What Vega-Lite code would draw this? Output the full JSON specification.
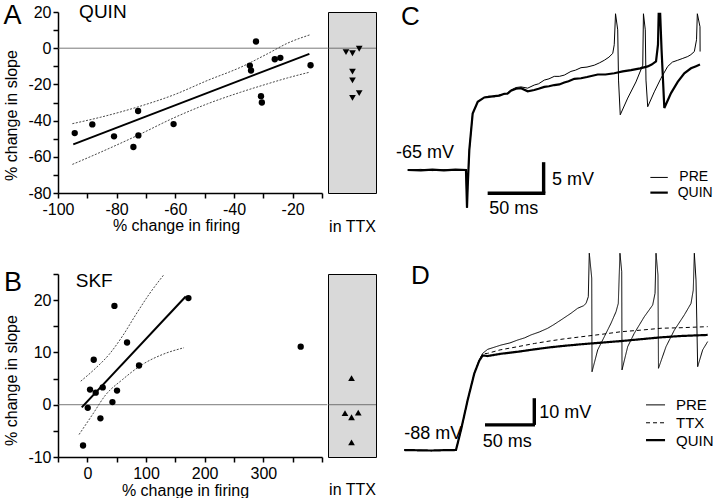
{
  "$schema": "https://vega.github.io/schema/vega-lite/v6.json",
  "padding": {"left": 3, "top": 1, "right": 0, "bottom": 0},
  "background": "white",
  "config": {
    "font": "Liberation Sans",
    "view": {"stroke": null},
    "axis": {"domainColor": "#000", "domainWidth": 1.5, "tickColor": "#000", "tickWidth": 1.5, "tickSize": 5, "labelFont": "Liberation Sans", "labelFontSize": 16, "labelColor": "#000", "titleFont": "Liberation Sans", "titleFontSize": 16, "titleFontWeight": "normal", "titleColor": "#000", "grid": false, "labelOverlap": false, "labelFlush": false},
    "text": {"font": "Liberation Sans", "color": "#000"}
  },
  "columns": 3,
  "align": "each",
  "bounds": "flush",
  "spacing": {"row": 81, "column": 6},
  "datasets": {
    "aRef": [{"firing": -100, "firing2": -8, "slope": 0}],
    "aPts": [
      {"firing": -94.3, "slope": -46.9}, {"firing": -88.3, "slope": -42.1}, {"firing": -80.9, "slope": -48.7},
      {"firing": -74.3, "slope": -54.6}, {"firing": -72.7, "slope": -34.7}, {"firing": -72.6, "slope": -48.2},
      {"firing": -60.6, "slope": -41.9}, {"firing": -34.6, "slope": -9.6}, {"firing": -34.2, "slope": -12.3},
      {"firing": -32.5, "slope": 3.7}, {"firing": -30.8, "slope": -26.5}, {"firing": -30.5, "slope": -30.0},
      {"firing": -26.1, "slope": -6.1}, {"firing": -24.2, "slope": -5.3}, {"firing": -13.9, "slope": -9.4}
    ],
    "aReg": [{"firing": -94.8, "slope": -53.1}, {"firing": -14.3, "slope": -3.1}],
    "aCI": [
      {"band": "upper", "firing": -95.1, "slope": -41.7}, {"band": "upper", "firing": -85.4, "slope": -38.1},
      {"band": "upper", "firing": -72.9, "slope": -32.5}, {"band": "upper", "firing": -60.4, "slope": -25.7},
      {"band": "upper", "firing": -49.0, "slope": -17.8}, {"band": "upper", "firing": -37.7, "slope": -10.5},
      {"band": "upper", "firing": -28.6, "slope": -3.1}, {"band": "upper", "firing": -21.7, "slope": 2.8},
      {"band": "upper", "firing": -14.1, "slope": 7.4},
      {"band": "lower", "firing": -95.1, "slope": -64.2}, {"band": "lower", "firing": -85.4, "slope": -57.4},
      {"band": "lower", "firing": -72.9, "slope": -48.2}, {"band": "lower", "firing": -60.4, "slope": -38.4},
      {"band": "lower", "firing": -49.0, "slope": -30.7}, {"band": "lower", "firing": -37.7, "slope": -24.3},
      {"band": "lower", "firing": -28.6, "slope": -19.7}, {"band": "lower", "firing": -21.7, "slope": -16.4},
      {"band": "lower", "firing": -14.1, "slope": -13.2}
    ],
    "aNote": [
      {"firing": -118.6, "slope": 18.0, "label": "A", "role": "panel"},
      {"firing": -92.8, "slope": 19.9, "label": "QUIN", "role": "drug"}
    ],
    "aTTX": [
      {"jitter": 0.375, "slope": -2.2}, {"jitter": 0.51, "slope": -2.8}, {"jitter": 0.65, "slope": -0.3},
      {"jitter": 0.51, "slope": -12.9}, {"jitter": 0.51, "slope": -17.8}, {"jitter": 0.51, "slope": -27.4},
      {"jitter": 0.65, "slope": -24.8}
    ],
    "bRef": [{"firing": -50, "firing2": 409, "slope": 0}],
    "bPts": [
      {"firing": -7.3, "slope": -7.8}, {"firing": 0.7, "slope": -0.6}, {"firing": 4.6, "slope": 2.9},
      {"firing": 10.9, "slope": 8.6}, {"firing": 14.3, "slope": 2.3}, {"firing": 22.3, "slope": -2.6},
      {"firing": 26.2, "slope": 3.3}, {"firing": 42.8, "slope": 0.5}, {"firing": 46.2, "slope": 18.9},
      {"firing": 50.6, "slope": 2.7}, {"firing": 67.7, "slope": 11.9}, {"firing": 88.1, "slope": 7.5},
      {"firing": 172.3, "slope": 20.4}, {"firing": 363.7, "slope": 11.1}
    ],
    "bReg": [{"firing": -9.5, "slope": -0.5}, {"firing": 167.7, "slope": 20.7}],
    "bCI": [
      {"band": "upper", "firing": -11.2, "slope": 4.5}, {"band": "upper", "firing": 14.3, "slope": 7.0},
      {"band": "upper", "firing": 37.0, "slope": 9.6}, {"band": "upper", "firing": 59.8, "slope": 13.1},
      {"band": "upper", "firing": 82.5, "slope": 17.2}, {"band": "upper", "firing": 105.2, "slope": 21.1},
      {"band": "upper", "firing": 130.7, "slope": 24.9},
      {"band": "lower", "firing": -14.1, "slope": -5.7}, {"band": "lower", "firing": 8.7, "slope": -1.9},
      {"band": "lower", "firing": 31.4, "slope": 1.9}, {"band": "lower", "firing": 59.8, "slope": 4.8},
      {"band": "lower", "firing": 93.9, "slope": 7.7}, {"band": "lower", "firing": 128.0, "slope": 9.6},
      {"band": "lower", "firing": 164.8, "slope": 10.9}
    ],
    "bNote": [
      {"firing": -142, "slope": 23.3, "label": "B", "role": "panel"},
      {"firing": -19.8, "slope": 23.6, "label": "SKF", "role": "drug"}
    ],
    "bTTX": [
      {"jitter": 0.49, "slope": 5.1}, {"jitter": 0.354, "slope": -1.6}, {"jitter": 0.49, "slope": -2.4},
      {"jitter": 0.63, "slope": -1.5}, {"jitter": 0.49, "slope": -7.2}
    ],
    "cTrace": [
      {"rec": "PRE", "ms": -51.4, "mV": -65.0}, {"rec": "PRE", "ms": -40, "mV": -64.9}, {"rec": "PRE", "ms": -30, "mV": -65.1},
      {"rec": "PRE", "ms": -20, "mV": -64.95}, {"rec": "PRE", "ms": -10, "mV": -65.05}, {"rec": "PRE", "ms": -0.9, "mV": -65.0},
      {"rec": "PRE", "ms": 0, "mV": -71.1}, {"rec": "PRE", "ms": 0.6, "mV": -67.7}, {"rec": "PRE", "ms": 2.0, "mV": -61.8},
      {"rec": "PRE", "ms": 4.9, "mV": -55.9}, {"rec": "PRE", "ms": 9.3, "mV": -54.0}, {"rec": "PRE", "ms": 15.0, "mV": -53.3},
      {"rec": "PRE", "ms": 19, "mV": -53.1}, {"rec": "PRE", "ms": 23.7, "mV": -53.2}, {"rec": "PRE", "ms": 28, "mV": -52.9},
      {"rec": "PRE", "ms": 32.3, "mV": -52.8}, {"rec": "PRE", "ms": 35, "mV": -52.6}, {"rec": "PRE", "ms": 38.1, "mV": -52.1},
      {"rec": "PRE", "ms": 42.5, "mV": -51.7}, {"rec": "PRE", "ms": 46.8, "mV": -51.6}, {"rec": "PRE", "ms": 52.6, "mV": -51.8},
      {"rec": "PRE", "ms": 58.3, "mV": -51.3}, {"rec": "PRE", "ms": 62, "mV": -51.1}, {"rec": "PRE", "ms": 67.0, "mV": -50.5},
      {"rec": "PRE", "ms": 71, "mV": -50.3}, {"rec": "PRE", "ms": 75.6, "mV": -49.9}, {"rec": "PRE", "ms": 80, "mV": -49.9},
      {"rec": "PRE", "ms": 84.3, "mV": -49.7}, {"rec": "PRE", "ms": 90.1, "mV": -49.1}, {"rec": "PRE", "ms": 94, "mV": -48.9},
      {"rec": "PRE", "ms": 98.8, "mV": -48.5}, {"rec": "PRE", "ms": 104, "mV": -48.4}, {"rec": "PRE", "ms": 110.3, "mV": -48.1},
      {"rec": "PRE", "ms": 115, "mV": -47.7}, {"rec": "PRE", "ms": 119.0, "mV": -47.3}, {"rec": "PRE", "ms": 123, "mV": -46.8},
      {"rec": "PRE", "ms": 126.3, "mV": -46.2}, {"rec": "PRE", "ms": 127.6, "mV": -44.8}, {"rec": "PRE", "ms": 128.7, "mV": -39.8},
      {"rec": "PRE", "ms": 130.6, "mV": -42.4}, {"rec": "PRE", "ms": 131.3, "mV": -50.5}, {"rec": "PRE", "ms": 132.8, "mV": -56.1},
      {"rec": "PRE", "ms": 139.3, "mV": -53.4}, {"rec": "PRE", "ms": 146.4, "mV": -50.8}, {"rec": "PRE", "ms": 152.3, "mV": -48.1},
      {"rec": "PRE", "ms": 152.9, "mV": -39.8}, {"rec": "PRE", "ms": 154.5, "mV": -42.4}, {"rec": "PRE", "ms": 155.1, "mV": -50.5},
      {"rec": "PRE", "ms": 156.6, "mV": -54.8}, {"rec": "PRE", "ms": 162.3, "mV": -52.4}, {"rec": "PRE", "ms": 168.1, "mV": -50.2},
      {"rec": "PRE", "ms": 173.9, "mV": -48.3}, {"rec": "PRE", "ms": 178, "mV": -47.6}, {"rec": "PRE", "ms": 182.6, "mV": -47.3},
      {"rec": "PRE", "ms": 187, "mV": -47.0}, {"rec": "PRE", "ms": 191.3, "mV": -46.7}, {"rec": "PRE", "ms": 194, "mV": -46.4},
      {"rec": "PRE", "ms": 197.0, "mV": -45.9}, {"rec": "PRE", "ms": 198.9, "mV": -44.0}, {"rec": "PRE", "ms": 199.6, "mV": -39.8},
      {"rec": "PRE", "ms": 201.9, "mV": -41.9}, {"rec": "PRE", "ms": 202.0, "mV": -45.9},
      {"rec": "QUIN", "ms": -51.4, "mV": -65.0}, {"rec": "QUIN", "ms": -40, "mV": -65.05}, {"rec": "QUIN", "ms": -30, "mV": -64.95},
      {"rec": "QUIN", "ms": -20, "mV": -65.05}, {"rec": "QUIN", "ms": -10, "mV": -64.95}, {"rec": "QUIN", "ms": -0.9, "mV": -65.0},
      {"rec": "QUIN", "ms": 0, "mV": -71.1}, {"rec": "QUIN", "ms": 0.6, "mV": -67.7}, {"rec": "QUIN", "ms": 2.0, "mV": -61.8},
      {"rec": "QUIN", "ms": 4.9, "mV": -55.9}, {"rec": "QUIN", "ms": 9.3, "mV": -54.0}, {"rec": "QUIN", "ms": 15.0, "mV": -53.3},
      {"rec": "QUIN", "ms": 19, "mV": -53.2}, {"rec": "QUIN", "ms": 23.7, "mV": -53.1}, {"rec": "QUIN", "ms": 28, "mV": -53.0},
      {"rec": "QUIN", "ms": 32.3, "mV": -52.7}, {"rec": "QUIN", "ms": 35, "mV": -52.7}, {"rec": "QUIN", "ms": 38.1, "mV": -52.2},
      {"rec": "QUIN", "ms": 42.5, "mV": -51.9}, {"rec": "QUIN", "ms": 46.8, "mV": -51.8}, {"rec": "QUIN", "ms": 52.6, "mV": -52.3},
      {"rec": "QUIN", "ms": 58.3, "mV": -52.1}, {"rec": "QUIN", "ms": 62, "mV": -51.9}, {"rec": "QUIN", "ms": 67.0, "mV": -51.6},
      {"rec": "QUIN", "ms": 71, "mV": -51.5}, {"rec": "QUIN", "ms": 75.6, "mV": -51.3}, {"rec": "QUIN", "ms": 80, "mV": -51.2},
      {"rec": "QUIN", "ms": 84.3, "mV": -50.9}, {"rec": "QUIN", "ms": 88, "mV": -50.7}, {"rec": "QUIN", "ms": 93.0, "mV": -50.3},
      {"rec": "QUIN", "ms": 98.8, "mV": -50.2}, {"rec": "QUIN", "ms": 104, "mV": -50.0}, {"rec": "QUIN", "ms": 113.3, "mV": -49.6},
      {"rec": "QUIN", "ms": 120, "mV": -49.6}, {"rec": "QUIN", "ms": 127.6, "mV": -49.4}, {"rec": "QUIN", "ms": 135, "mV": -49.1},
      {"rec": "QUIN", "ms": 142.1, "mV": -48.9}, {"rec": "QUIN", "ms": 150, "mV": -48.6}, {"rec": "QUIN", "ms": 156.6, "mV": -48.3},
      {"rec": "QUIN", "ms": 160, "mV": -48.0}, {"rec": "QUIN", "ms": 163.8, "mV": -47.5}, {"rec": "QUIN", "ms": 165.5, "mV": -44.8},
      {"rec": "QUIN", "ms": 166.1, "mV": -39.8}, {"rec": "QUIN", "ms": 167.4, "mV": -39.8}, {"rec": "QUIN", "ms": 168.6, "mV": -45.6},
      {"rec": "QUIN", "ms": 171.0, "mV": -55.0}, {"rec": "QUIN", "ms": 176.8, "mV": -52.6}, {"rec": "QUIN", "ms": 182.6, "mV": -50.8},
      {"rec": "QUIN", "ms": 188.3, "mV": -49.4}, {"rec": "QUIN", "ms": 194.1, "mV": -48.6}, {"rec": "QUIN", "ms": 198, "mV": -48.3},
      {"rec": "QUIN", "ms": 201.9, "mV": -48.0}
    ],
    "cBar": [
      {"ms": 66.4, "ms2": 66.4, "mV": -63.74, "mV2": -68.74},
      {"ms": 17.9, "ms2": 67.9, "mV": -68.74, "mV2": -68.74}
    ],
    "cKey": [
      {"rec": "PRE", "ms": 158.9, "ms2": 174.0, "mV": -66.2},
      {"rec": "QUIN", "ms": 158.9, "ms2": 174.0, "mV": -68.65}
    ],
    "cNote": [
      {"ms": -57.2, "mV": -40.4, "label": "C", "role": "panel"},
      {"ms": -61.5, "mV": -62.2, "label": "-65 mV", "role": "hold"},
      {"ms": 73.7, "mV": -66.6, "label": "5 mV", "role": "scale"},
      {"ms": 19.3, "mV": -71.3, "label": "50 ms", "role": "scale"},
      {"ms": 184.0, "mV": -66.2, "label": "PRE", "role": "key"},
      {"ms": 182.6, "mV": -68.65, "label": "QUIN", "role": "key"}
    ],
    "dTrace": [
      {"rec": "PRE", "ms": -52.8, "mV": -88}, {"rec": "PRE", "ms": -40, "mV": -88.1}, {"rec": "PRE", "ms": -25.5, "mV": -88.2},
      {"rec": "PRE", "ms": -10, "mV": -88.05}, {"rec": "PRE", "ms": 0, "mV": -88}, {"rec": "PRE", "ms": 5.1, "mV": -80.5},
      {"rec": "PRE", "ms": 11.9, "mV": -69.3}, {"rec": "PRE", "ms": 18.7, "mV": -59.3}, {"rec": "PRE", "ms": 23.8, "mV": -54.3},
      {"rec": "PRE", "ms": 27.2, "mV": -51.8}, {"rec": "PRE", "ms": 32.3, "mV": -50.3}, {"rec": "PRE", "ms": 45.9, "mV": -48.7},
      {"rec": "PRE", "ms": 55, "mV": -47.9}, {"rec": "PRE", "ms": 63.0, "mV": -46.8}, {"rec": "PRE", "ms": 70, "mV": -46.0},
      {"rec": "PRE", "ms": 76.5, "mV": -44.9}, {"rec": "PRE", "ms": 85, "mV": -43.8}, {"rec": "PRE", "ms": 93.6, "mV": -42.4},
      {"rec": "PRE", "ms": 100, "mV": -41.0}, {"rec": "PRE", "ms": 107.1, "mV": -39.3}, {"rec": "PRE", "ms": 112, "mV": -38.1},
      {"rec": "PRE", "ms": 117.3, "mV": -36.8}, {"rec": "PRE", "ms": 124.2, "mV": -34.9}, {"rec": "PRE", "ms": 130, "mV": -34.0},
      {"rec": "PRE", "ms": 132.7, "mV": -33.1}, {"rec": "PRE", "ms": 135.0, "mV": -30.6}, {"rec": "PRE", "ms": 136.0, "mV": -14.3},
      {"rec": "PRE", "ms": 138.5, "mV": -23.6}, {"rec": "PRE", "ms": 138.8, "mV": -58.7}, {"rec": "PRE", "ms": 144.6, "mV": -50.5},
      {"rec": "PRE", "ms": 151.3, "mV": -45.6}, {"rec": "PRE", "ms": 158.2, "mV": -40.5}, {"rec": "PRE", "ms": 163.3, "mV": -36.2},
      {"rec": "PRE", "ms": 165.6, "mV": -33.1}, {"rec": "PRE", "ms": 167.3, "mV": -14.3}, {"rec": "PRE", "ms": 169.1, "mV": -21.2},
      {"rec": "PRE", "ms": 169.4, "mV": -58.0}, {"rec": "PRE", "ms": 175.2, "mV": -49.3}, {"rec": "PRE", "ms": 181.9, "mV": -44.3},
      {"rec": "PRE", "ms": 192.1, "mV": -38.1}, {"rec": "PRE", "ms": 200.7, "mV": -33.7}, {"rec": "PRE", "ms": 203.1, "mV": -29.3},
      {"rec": "PRE", "ms": 204.1, "mV": -14.3}, {"rec": "PRE", "ms": 206.1, "mV": -22.5}, {"rec": "PRE", "ms": 206.6, "mV": -57.4},
      {"rec": "PRE", "ms": 214.3, "mV": -49.3}, {"rec": "PRE", "ms": 222.8, "mV": -43.1}, {"rec": "PRE", "ms": 233.0, "mV": -37.4},
      {"rec": "PRE", "ms": 239.8, "mV": -33.1}, {"rec": "PRE", "ms": 242.1, "mV": -28.1}, {"rec": "PRE", "ms": 243.2, "mV": -14.3},
      {"rec": "PRE", "ms": 244.9, "mV": -24.3}, {"rec": "PRE", "ms": 246.6, "mV": -56.8}, {"rec": "PRE", "ms": 251.7, "mV": -50.5},
      {"rec": "PRE", "ms": 256.8, "mV": -47.4},
      {"rec": "TTX", "ms": -52.8, "mV": -88}, {"rec": "TTX", "ms": -40, "mV": -88.1}, {"rec": "TTX", "ms": -25.5, "mV": -88.2},
      {"rec": "TTX", "ms": -10, "mV": -88.05}, {"rec": "TTX", "ms": 0, "mV": -88}, {"rec": "TTX", "ms": 5.1, "mV": -80.5},
      {"rec": "TTX", "ms": 11.9, "mV": -69.3}, {"rec": "TTX", "ms": 18.7, "mV": -59.3}, {"rec": "TTX", "ms": 23.8, "mV": -54.3},
      {"rec": "TTX", "ms": 27.2, "mV": -52.0}, {"rec": "TTX", "ms": 32.3, "mV": -51.8}, {"rec": "TTX", "ms": 45, "mV": -50.5},
      {"rec": "TTX", "ms": 63.0, "mV": -49.3}, {"rec": "TTX", "ms": 80, "mV": -48.1}, {"rec": "TTX", "ms": 96.9, "mV": -47.1},
      {"rec": "TTX", "ms": 110, "mV": -46.4}, {"rec": "TTX", "ms": 127.6, "mV": -45.6}, {"rec": "TTX", "ms": 148.0, "mV": -44.7},
      {"rec": "TTX", "ms": 168.4, "mV": -43.7}, {"rec": "TTX", "ms": 188.8, "mV": -43.1}, {"rec": "TTX", "ms": 209.2, "mV": -42.4},
      {"rec": "TTX", "ms": 229.6, "mV": -42.2}, {"rec": "TTX", "ms": 256.8, "mV": -41.8},
      {"rec": "QUIN", "ms": -52.8, "mV": -88}, {"rec": "QUIN", "ms": -40, "mV": -88.1}, {"rec": "QUIN", "ms": -25.5, "mV": -88.2},
      {"rec": "QUIN", "ms": -10, "mV": -88.05}, {"rec": "QUIN", "ms": 0, "mV": -88}, {"rec": "QUIN", "ms": 5.1, "mV": -80.5},
      {"rec": "QUIN", "ms": 11.9, "mV": -69.3}, {"rec": "QUIN", "ms": 18.7, "mV": -59.3}, {"rec": "QUIN", "ms": 23.8, "mV": -54.5},
      {"rec": "QUIN", "ms": 27.2, "mV": -52.6}, {"rec": "QUIN", "ms": 32.3, "mV": -52.8}, {"rec": "QUIN", "ms": 45, "mV": -52.0},
      {"rec": "QUIN", "ms": 63.0, "mV": -51.2}, {"rec": "QUIN", "ms": 80, "mV": -50.3}, {"rec": "QUIN", "ms": 96.9, "mV": -49.5},
      {"rec": "QUIN", "ms": 110, "mV": -49.0}, {"rec": "QUIN", "ms": 127.6, "mV": -48.4}, {"rec": "QUIN", "ms": 148.0, "mV": -47.8},
      {"rec": "QUIN", "ms": 168.4, "mV": -47.2}, {"rec": "QUIN", "ms": 188.8, "mV": -46.5}, {"rec": "QUIN", "ms": 209.2, "mV": -45.8},
      {"rec": "QUIN", "ms": 229.6, "mV": -45.3}, {"rec": "QUIN", "ms": 256.8, "mV": -44.9}
    ],
    "dBar": [
      {"ms": 79.9, "ms2": 79.9, "mV": -68.6, "mV2": -78.6},
      {"ms": 29.6, "ms2": 80.6, "mV": -78.6, "mV2": -78.6}
    ],
    "dKey": [
      {"rec": "PRE", "ms": 193.9, "ms2": 213.3, "mV": -71.1},
      {"rec": "TTX", "ms": 193.9, "ms2": 213.3, "mV": -77.8},
      {"rec": "QUIN", "ms": 193.9, "ms2": 213.3, "mV": -84.3}
    ],
    "dNote": [
      {"ms": -45.9, "mV": -22.8, "label": "D", "role": "panel"},
      {"ms": -52.8, "mV": -82.0, "label": "-88 mV", "role": "hold"},
      {"ms": 85.0, "mV": -74.3, "label": "10 mV", "role": "scale"},
      {"ms": 27.2, "mV": -84.9, "label": "50 ms", "role": "scale"},
      {"ms": 224.5, "mV": -71.1, "label": "PRE", "role": "key"},
      {"ms": 224.5, "mV": -77.8, "label": "TTX", "role": "key"},
      {"ms": 224.5, "mV": -84.5, "label": "QUIN", "role": "key"}
    ]
  },
  "concat": [
    {
      "width": 264, "height": 181,
      "encoding": {
        "x": {"field": "firing", "type": "quantitative", "scale": {"domain": [-100, -10], "nice": false, "zero": false},
          "axis": {"title": "% change in firing", "values": [-100, -90, -80, -70, -60, -50, -40, -30, -20, -10], "labelExpr": "datum.value % 20 == 0 ? '' + datum.value : ''", "labelOverlap": false, "labelPadding": 3, "titleX": 118, "titleY": 32.4, "titleBaseline": "middle", "titleAlign": "center"}},
        "y": {"field": "slope", "type": "quantitative", "scale": {"domain": [-80, 20], "nice": false, "zero": false},
          "axis": {"title": "% change in slope", "values": [-80, -70, -60, -50, -40, -30, -20, -10, 0, 10, 20], "labelExpr": "datum.value % 20 == 0 ? '' + datum.value : ''", "labelOverlap": false, "labelPadding": 2, "titleX": -46.8, "titleY": 103, "titleBaseline": "middle", "titleAlign": "center"}}
      },
      "layer": [
        {
          "data": {"name": "aRef"},
          "mark": {"type": "rule", "color": "#555", "strokeWidth": 0.8},
          "encoding": {"x2": {"field": "firing2"}}
        },
        {
          "data": {"name": "aCI"},
          "mark": {"type": "line", "strokeDash": [2, 1.5], "strokeWidth": 0.9, "color": "#333", "interpolate": "monotone"},
          "encoding": {"detail": {"field": "band"}}
        },
        {
          "data": {"name": "aReg"},
          "mark": {"type": "line", "strokeWidth": 2, "color": "#000"},
          "encoding": {}
        },
        {
          "data": {"name": "aPts"},
          "mark": {"type": "circle", "size": 40, "color": "#000", "opacity": 1}
        },
        {
          "data": {"name": "aNote"},
          "transform": [{"filter": "datum.role == 'panel'"}],
          "mark": {"type": "text", "fontSize": 27, "align": "left", "baseline": "middle"},
          "encoding": {"text": {"field": "label"}}
        },
        {
          "data": {"name": "aNote"},
          "transform": [{"filter": "datum.role == 'drug'"}],
          "mark": {"type": "text", "fontSize": 19, "align": "left", "baseline": "middle"},
          "encoding": {"text": {"field": "label"}}
        }
      ]
    },
    {
      "width": 48, "height": 181,
      "view": {"fill": "#d9d9d9", "stroke": "#000", "strokeWidth": 1},
      "layer": [
        {
          "data": {"name": "aRef"},
          "mark": {"type": "rule", "color": "#555", "strokeWidth": 0.8},
          "encoding": {"y": {"field": "slope", "type": "quantitative", "scale": {"domain": [-80, 20], "nice": false, "zero": false}, "axis": null}}
        },
        {
          "data": {"name": "aTTX"},
          "mark": {"type": "point", "shape": "triangle-down", "filled": true, "size": 45, "color": "#000", "opacity": 1},
          "encoding": {
            "x": {"field": "jitter", "type": "quantitative", "scale": {"domain": [0, 1], "nice": false, "zero": false},
              "axis": {"title": "in TTX", "domain": false, "ticks": false, "labels": false, "titleY": 33, "titleBaseline": "middle", "titleAlign": "center"}},
            "y": {"field": "slope", "type": "quantitative", "axis": null}
          }
        }
      ]
    },
    {
      "width": 330, "height": 181,
      "encoding": {
        "x": {"field": "ms", "type": "quantitative", "scale": {"domain": [-73.66, 212.31], "nice": false, "zero": false}, "axis": null},
        "y": {"field": "mV", "type": "quantitative", "scale": {"domain": [-68.71, -39.52], "nice": false, "zero": false}, "axis": null}
      },
      "layer": [
        {
          "data": {"name": "cTrace"},
          "mark": {"type": "line", "color": "#000", "interpolate": "linear"},
          "encoding": {
            "detail": {"field": "rec"},
            "strokeWidth": {"field": "rec", "type": "nominal", "scale": {"type": "ordinal", "domain": ["PRE", "QUIN"], "range": [1, 2.2]}, "legend": null}
          }
        },
        {
          "data": {"name": "cBar"},
          "mark": {"type": "rule", "color": "#000", "strokeWidth": 3.4},
          "encoding": {"x2": {"field": "ms2"}, "y2": {"field": "mV2"}}
        },
        {
          "data": {"name": "cKey"},
          "mark": {"type": "rule", "color": "#000"},
          "encoding": {"x2": {"field": "ms2"},
            "strokeWidth": {"field": "rec", "type": "nominal", "scale": {"type": "ordinal", "domain": ["PRE", "QUIN"], "range": [1, 2.2]}, "legend": null}}
        },
        {
          "data": {"name": "cNote"},
          "transform": [{"filter": "datum.role == 'panel'"}],
          "mark": {"type": "text", "fontSize": 26, "align": "left", "baseline": "middle"},
          "encoding": {"text": {"field": "label"}}
        },
        {
          "data": {"name": "cNote"},
          "transform": [{"filter": "datum.role == 'hold' || datum.role == 'scale'"}],
          "mark": {"type": "text", "fontSize": 18, "align": "left", "baseline": "middle"},
          "encoding": {"text": {"field": "label"}}
        },
        {
          "data": {"name": "cNote"},
          "transform": [{"filter": "datum.role == 'key'"}],
          "mark": {"type": "text", "fontSize": 14, "align": "left", "baseline": "middle"},
          "encoding": {"text": {"field": "label"}}
        }
      ]
    },
    {
      "width": 264, "height": 183,
      "encoding": {
        "x": {"field": "firing", "type": "quantitative", "scale": {"domain": [-50, 400], "nice": false, "zero": false},
          "axis": {"title": "% change in firing", "values": [-50, 0, 50, 100, 150, 200, 250, 300, 350, 400], "labelExpr": "datum.value == 0 || datum.value == 100 || datum.value == 200 || datum.value == 300 ? '' + datum.value : ''", "labelOverlap": false, "labelPadding": 3, "titleX": 127, "titleY": 33, "titleBaseline": "middle", "titleAlign": "center"}},
        "y": {"field": "slope", "type": "quantitative", "scale": {"domain": [-10, 25], "nice": false, "zero": false},
          "axis": {"title": "% change in slope", "values": [-10, -5, 0, 5, 10, 15, 20, 25], "labelExpr": "datum.value % 10 == 0 ? '' + datum.value : ''", "labelOverlap": false, "labelPadding": 2, "titleX": -46.8, "titleY": 106, "titleBaseline": "middle", "titleAlign": "center"}}
      },
      "layer": [
        {
          "data": {"name": "bRef"},
          "mark": {"type": "rule", "color": "#555", "strokeWidth": 0.8},
          "encoding": {"x2": {"field": "firing2"}}
        },
        {
          "data": {"name": "bCI"},
          "mark": {"type": "line", "strokeDash": [2, 1.5], "strokeWidth": 0.9, "color": "#333", "interpolate": "monotone"},
          "encoding": {"detail": {"field": "band"}}
        },
        {
          "data": {"name": "bReg"},
          "mark": {"type": "line", "strokeWidth": 2, "color": "#000"},
          "encoding": {}
        },
        {
          "data": {"name": "bPts"},
          "mark": {"type": "circle", "size": 40, "color": "#000", "opacity": 1}
        },
        {
          "data": {"name": "bNote"},
          "transform": [{"filter": "datum.role == 'panel'"}],
          "mark": {"type": "text", "fontSize": 27, "align": "left", "baseline": "middle"},
          "encoding": {"text": {"field": "label"}}
        },
        {
          "data": {"name": "bNote"},
          "transform": [{"filter": "datum.role == 'drug'"}],
          "mark": {"type": "text", "fontSize": 19, "align": "left", "baseline": "middle"},
          "encoding": {"text": {"field": "label"}}
        }
      ]
    },
    {
      "width": 48, "height": 183,
      "view": {"fill": "#d9d9d9", "stroke": "#000", "strokeWidth": 1},
      "layer": [
        {
          "data": {"name": "bRef"},
          "mark": {"type": "rule", "color": "#555", "strokeWidth": 0.8},
          "encoding": {"y": {"field": "slope", "type": "quantitative", "scale": {"domain": [-10, 25], "nice": false, "zero": false}, "axis": null}}
        },
        {
          "data": {"name": "bTTX"},
          "mark": {"type": "point", "shape": "triangle-up", "filled": true, "size": 45, "color": "#000", "opacity": 1},
          "encoding": {
            "x": {"field": "jitter", "type": "quantitative", "scale": {"domain": [0, 1], "nice": false, "zero": false},
              "axis": {"title": "in TTX", "domain": false, "ticks": false, "labels": false, "titleY": 32, "titleBaseline": "middle", "titleAlign": "center"}},
            "y": {"field": "slope", "type": "quantitative", "axis": null}
          }
        }
      ]
    },
    {
      "width": 330, "height": 183,
      "encoding": {
        "x": {"field": "ms", "type": "quantitative", "scale": {"domain": [-75.51, 261.22], "nice": false, "zero": false}, "axis": null},
        "y": {"field": "mV", "type": "quantitative", "scale": {"domain": [-90.62, -22.08], "nice": false, "zero": false}, "axis": null}
      },
      "layer": [
        {
          "data": {"name": "dTrace"},
          "mark": {"type": "line", "color": "#000", "interpolate": "linear"},
          "encoding": {
            "detail": {"field": "rec"},
            "strokeWidth": {"field": "rec", "type": "nominal", "scale": {"type": "ordinal", "domain": ["PRE", "TTX", "QUIN"], "range": [1, 1, 2.6]}, "legend": null},
            "strokeDash": {"field": "rec", "type": "nominal", "scale": {"domain": ["PRE", "TTX", "QUIN"], "range": [[1, 0], [4, 3], [1, 0]]}, "legend": null}
          }
        },
        {
          "data": {"name": "dBar"},
          "mark": {"type": "rule", "color": "#000", "strokeWidth": 3.4},
          "encoding": {"x2": {"field": "ms2"}, "y2": {"field": "mV2"}}
        },
        {
          "data": {"name": "dKey"},
          "mark": {"type": "rule", "color": "#000"},
          "encoding": {"x2": {"field": "ms2"},
            "strokeWidth": {"field": "rec", "type": "nominal", "scale": {"type": "ordinal", "domain": ["PRE", "TTX", "QUIN"], "range": [1, 1, 2.6]}, "legend": null},
            "strokeDash": {"field": "rec", "type": "nominal", "scale": {"domain": ["PRE", "TTX", "QUIN"], "range": [[1, 0], [4, 3], [1, 0]]}, "legend": null}}
        },
        {
          "data": {"name": "dNote"},
          "transform": [{"filter": "datum.role == 'panel'"}],
          "mark": {"type": "text", "fontSize": 26, "align": "left", "baseline": "middle"},
          "encoding": {"text": {"field": "label"}}
        },
        {
          "data": {"name": "dNote"},
          "transform": [{"filter": "datum.role == 'hold' || datum.role == 'scale'"}],
          "mark": {"type": "text", "fontSize": 18, "align": "left", "baseline": "middle"},
          "encoding": {"text": {"field": "label"}}
        },
        {
          "data": {"name": "dNote"},
          "transform": [{"filter": "datum.role == 'key'"}],
          "mark": {"type": "text", "fontSize": 15, "align": "left", "baseline": "middle"},
          "encoding": {"text": {"field": "label"}}
        }
      ]
    }
  ]
}
